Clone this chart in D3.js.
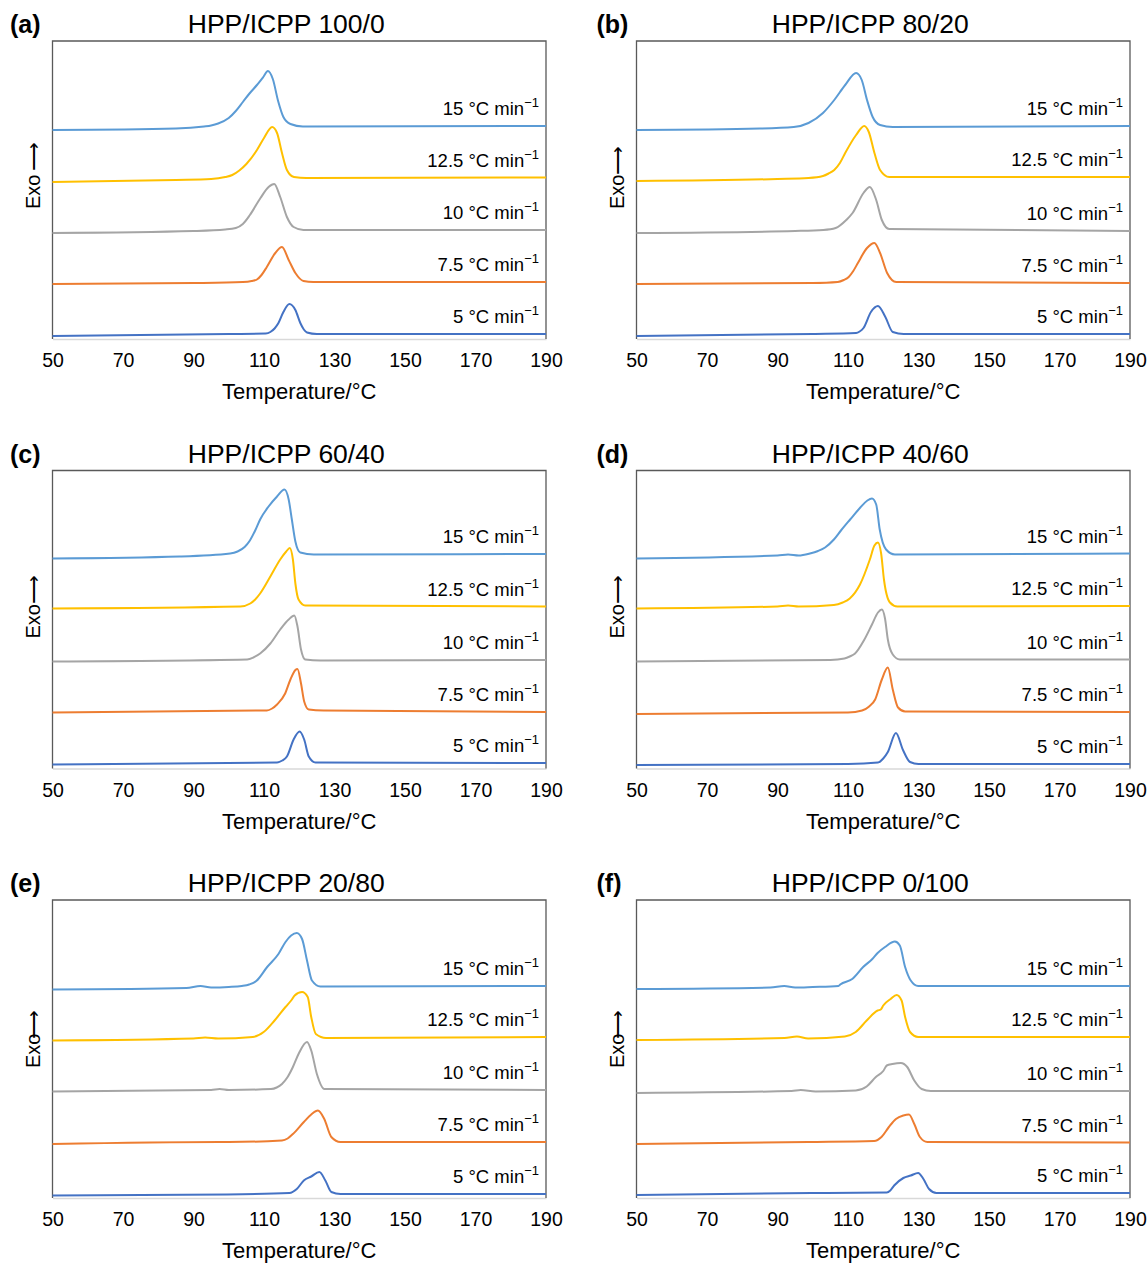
<!DOCTYPE html>
<html>
<head>
<meta charset="utf-8">
<script src="https://cdn.jsdelivr.net/npm/d3@7"></script>
<style>
  body { margin: 0; background: #fff; }
  text { font-family: "Liberation Sans", Arial, sans-serif; fill: #000; }
</style>
</head>
<body>
<svg id="chart"></svg>
<script>
// Cooling rates (°C/min), top curve first
const rates = ["15", "12.5", "10", "7.5", "5"];
const rateColors = ["#5B9BD5", "#FFC000", "#A5A5A5", "#ED7D31", "#4472C4"];
const panelLetters = ["(a)", "(b)", "(c)", "(d)", "(e)", "(f)"];
const panelTitles = ["HPP/ICPP 100/0", "HPP/ICPP 80/20", "HPP/ICPP 60/40",
                     "HPP/ICPP 40/60", "HPP/ICPP 20/80", "HPP/ICPP 0/100"];
const xTicks = [50, 70, 90, 110, 130, 150, 170, 190];

// DSC cooling curves, [temperature, heat flow (a.u., stacked)]
const curvesA = [
  [[50,20.9],[85,21.05],[93,21.25],[95,21.35],[97,21.55],[100,22.1],[102,22.8],[104,23.7],[106,24.6],[108,25.4],[109.8,26.2],[111.1,26.8],[112.5,26.0],[114,23.8],[115.5,22.2],[117.5,21.5],[121,21.25],[190,21.3]],
  [[50,15.7],[85,15.9],[95,16.0],[99,16.2],[101,16.4],[103,16.85],[105,17.5],[108,18.9],[110,20.1],[112.3,21.2],[113.7,20.6],[115.1,18.6],[116.5,16.9],[118.5,16.2],[122,16.1],[190,16.15]],
  [[50,10.6],[90,10.8],[99,10.95],[102,11.1],[104,11.5],[106,12.4],[109,14.1],[111.3,15.2],[112.9,15.5],[114.6,14.2],[116.5,12.2],[118.4,11.2],[121.2,10.9],[190,10.9]],
  [[50,5.5],[90,5.6],[104,5.7],[106.5,5.8],[108,5.95],[109.3,6.4],[110.8,7.2],[113.2,8.6],[115.1,9.2],[117,7.9],[118.9,6.6],[121.2,5.8],[124,5.7],[190,5.7]],
  [[50,0.3],[100,0.5],[110.5,0.55],[111.8,0.7],[113,1.05],[114.1,1.6],[115.5,2.7],[117.2,3.5],[118.9,2.9],[120.3,1.6],[121.3,0.95],[122.2,0.65],[125,0.5],[190,0.5]]
];
const curvesB = [
  [[50,20.9],[85,21.05],[94.6,21.2],[98.8,21.6],[102.9,22.6],[106.1,23.9],[109.2,25.4],[112.3,26.6],[113.9,25.9],[115.4,23.9],[117,22.2],[119.1,21.4],[122.7,21.2],[190,21.3]],
  [[50,15.8],[90,16.0],[98.8,16.1],[102.9,16.3],[104.5,16.55],[106.1,16.9],[107.7,17.6],[109.2,18.6],[112.3,20.4],[114.6,21.3],[115.9,20.7],[117.5,18.6],[119.1,16.9],[121.7,16.2],[190,16.2]],
  [[50,10.6],[95,10.8],[103,10.9],[106.5,11.1],[109.5,11.9],[111.3,12.6],[114.4,14.6],[116.2,15.2],[118,13.9],[119.6,11.9],[121.7,11.0],[190,10.8]],
  [[50,5.5],[100,5.6],[107.1,5.7],[108.8,5.9],[110.2,6.2],[111.5,6.8],[112.8,7.6],[115.4,9.1],[117.5,9.6],[119.1,8.6],[121.1,6.6],[123.7,5.7],[190,5.6]],
  [[50,0.3],[100,0.5],[112.3,0.6],[113.3,0.75],[114.4,1.1],[116.5,2.7],[118.5,3.3],[120.6,2.2],[122.7,0.7],[125.8,0.5],[190,0.5]]
];
const curvesC = [
  [[50,21.0],[86,21.2],[100.4,21.5],[102.5,21.7],[104.5,22.15],[106,22.8],[107.5,23.8],[108.9,24.9],[111.3,26.2],[113.7,27.2],[115.8,27.9],[117,26.9],[117.9,24.9],[118.9,22.7],[120.3,21.6],[124.1,21.4],[190,21.45]],
  [[50,16.0],[103.3,16.2],[106.1,16.5],[107.5,16.9],[108.9,17.5],[111.8,19.2],[114.6,20.9],[116.3,21.7],[117.3,22.05],[118.2,20.9],[118.9,18.5],[119.8,16.9],[121.7,16.3],[190,16.2]],
  [[50,10.7],[105.2,10.9],[107,11.1],[108.9,11.5],[111.8,12.5],[114.6,13.9],[117,14.9],[118.6,15.3],[119.5,14.2],[120.5,11.9],[121.7,10.9],[126,10.8],[190,10.85]],
  [[50,5.6],[110.8,5.8],[112.3,6.0],[113.7,6.4],[116,7.5],[117.5,8.9],[118.9,9.85],[119.5,9.95],[120.5,8.5],[121.4,6.7],[122.7,5.9],[126.9,5.8],[190,5.65]],
  [[50,0.4],[113.7,0.6],[115.2,0.8],[116.5,1.2],[118.4,2.9],[120.1,3.7],[121.4,2.9],[122.7,1.2],[124.6,0.6],[190,0.55]]
];
const curvesD = [
  [[50,21.0],[90,21.3],[93,21.4],[96,21.3],[99.2,21.5],[101.5,21.75],[103.5,22.1],[106,22.9],[108,23.8],[110.6,24.9],[113.5,26.1],[115.5,26.8],[116.8,27.0],[118,26.4],[119,23.9],[120.8,21.9],[123.3,21.4],[190,21.5]],
  [[50,16.0],[90,16.2],[93,16.3],[96,16.2],[106,16.35],[108.5,16.6],[110.5,17.0],[113.4,18.4],[116.2,20.9],[117.5,22.3],[118.5,22.6],[119.4,21.5],[120.2,18.9],[121.9,16.6],[124,16.2],[190,16.25]],
  [[50,10.7],[105,10.85],[109,11.0],[110.5,11.2],[112,11.5],[114.5,12.8],[116.8,14.4],[118.5,15.6],[119.6,15.9],[120.5,15.0],[121.3,12.9],[122.7,11.4],[124.7,10.9],[190,10.9]],
  [[50,5.45],[110,5.6],[114,5.8],[116,6.2],[117.7,6.9],[119.6,8.9],[121.3,10.1],[122.7,7.9],[124.2,6.1],[126.2,5.7],[190,5.65]],
  [[50,0.35],[110,0.45],[118.5,0.6],[120,1.0],[121.3,1.65],[123.6,3.55],[125.6,1.85],[127.6,0.65],[130,0.45],[190,0.45]]
];
const curvesE = [
  [[50,20.85],[88,21.0],[92,21.2],[95,21.05],[100,21.1],[103.7,21.2],[105.8,21.35],[107.8,21.7],[110.9,23.1],[114.1,24.4],[116.1,25.6],[117.7,26.25],[119.3,26.5],[120.8,25.9],[122.2,23.75],[123.6,21.75],[126,21.15],[190,21.2]],
  [[50,15.75],[90,15.95],[93.3,16.05],[97,15.95],[106.8,16.1],[109.9,16.6],[113,17.75],[116.1,19.1],[117.7,19.75],[118.7,20.25],[120.8,20.6],[122.4,20.1],[123.4,18.1],[124.7,16.4],[127.6,16.0],[190,16.1]],
  [[50,10.65],[95,10.8],[97.4,10.9],[100,10.8],[112,10.9],[113.6,11.05],[115.1,11.4],[116.7,12.1],[118.2,13.1],[119.8,14.4],[122.2,15.6],[123.4,14.75],[125,12.4],[127.1,10.9],[190,10.8]],
  [[50,5.4],[97.4,5.6],[100,5.6],[115.1,5.75],[116.7,5.95],[118.2,6.4],[121.3,7.6],[123.4,8.35],[125.3,8.75],[127.1,7.9],[129.1,6.1],[131.7,5.6],[190,5.6]],
  [[50,0.25],[99.5,0.35],[117.2,0.5],[119.3,0.9],[121.3,1.75],[123.4,2.15],[125.7,2.6],[127.4,1.75],[129.1,0.6],[131.7,0.4],[190,0.4]]
];
const curvesF = [
  [[50,20.9],[88,21.05],[91.9,21.2],[95,21.05],[100,21.1],[107.3,21.2],[107.8,21.35],[111.2,21.9],[114.3,23.1],[116.9,23.9],[118.4,24.5],[120.5,25.1],[123.3,25.65],[124.7,25.25],[126.2,23.1],[127.8,21.75],[129.9,21.2],[190,21.2]],
  [[50,15.8],[92,16.0],[95.5,16.15],[98.7,15.95],[109.1,16.15],[112.2,16.6],[115.3,17.75],[118.4,18.75],[119.3,18.85],[120,19.25],[122.1,19.9],[123.8,20.3],[125.2,19.75],[126.2,18.1],[127.6,16.6],[129.9,16.1],[190,16.1]],
  [[50,10.5],[94,10.7],[96.6,10.8],[100.8,10.65],[112.2,10.75],[115.3,11.15],[117.9,12.1],[120,12.7],[121,13.25],[122.6,13.4],[125,13.5],[126.8,13.1],[128.8,11.75],[130.9,10.9],[133.5,10.7],[190,10.7]],
  [[50,5.4],[98.7,5.6],[117.4,5.7],[119.5,6.1],[121.6,7.1],[123.6,7.9],[125.7,8.25],[127.3,8.35],[128.8,7.4],[130.4,6.1],[132.5,5.6],[190,5.55]],
  [[50,0.3],[99.7,0.5],[121,0.55],[122,0.75],[123.1,1.25],[125.7,2.0],[127.8,2.25],[129.9,2.5],[131.4,1.9],[133,0.9],[135.1,0.5],[190,0.5]]
];
const panelCurves = [curvesA, curvesB, curvesC, curvesD, curvesE, curvesF];

// Layout
const width = 1148, height = 1264;
const plotW = 493.5, plotH = 298;
const colX = [52.5, 636.5], rowY = [41, 470.5, 900];
const exoArrowShift = [4, 0, 0, 0, -5, -5];

const svg = d3.select("#chart")
  .attr("width", width)
  .attr("height", height);

panelCurves.forEach((curves, i) => {
  const g = svg.append("g")
    .attr("transform", `translate(${colX[i % 2]},${rowY[Math.floor(i / 2)]})`);

  const x = d3.scaleLinear().domain([50, 190]).range([0, plotW]);
  const y = d3.scaleLinear().domain([0, 29.8]).range([plotH, 0]);

  // bottom axis (light grey line, no ticks)
  const axis = g.append("g")
    .attr("transform", `translate(0,${plotH})`)
    .call(d3.axisBottom(x).tickValues(xTicks).tickSize(0).tickSizeOuter(0));
  axis.select(".domain").attr("stroke", "#d9d9d9").attr("stroke-width", 1.6);
  axis.selectAll("text")
    .attr("y", 28).attr("dy", null)
    .style("font-size", "19.5px")
    .style("font-family", '"Liberation Sans", Arial, sans-serif');

  // frame: left, top, right
  g.append("path")
    .attr("d", `M0,${plotH}V0H${plotW}V${plotH}`)
    .attr("fill", "none")
    .attr("stroke", "#595959")
    .attr("stroke-width", 1.3);

  const line = d3.line()
    .x(d => x(d[0]))
    .y(d => y(d[1]))
    .curve(d3.curveMonotoneX);

  curves.forEach((pts, k) => {
    g.append("path")
      .datum(pts)
      .attr("d", line)
      .attr("fill", "none")
      .attr("stroke", rateColors[k])
      .attr("stroke-width", 2)
      .attr("stroke-linejoin", "round");

    const last = pts[pts.length - 1];
    const lbl = g.append("text")
      .attr("x", plotW - 7)
      .attr("y", y(last[1]) - 11)
      .attr("text-anchor", "end")
      .style("font-size", "18.5px")
      .text(`${rates[k]} °C min`);
    lbl.append("tspan")
      .attr("dy", -8)
      .style("font-size", "13px")
      .text("\u22121");
  });

  // titles
  g.append("text")
    .attr("x", plotW / 2 - 13)
    .attr("y", -7.7)
    .attr("text-anchor", "middle")
    .style("font-size", "26.5px")
    .text(panelTitles[i]);

  g.append("text")
    .attr("x", i % 2 === 0 ? -42.5 : -40)
    .attr("y", -7.7)
    .style("font-size", "25px")
    .style("font-weight", "bold")
    .text(panelLetters[i]);

  g.append("text")
    .attr("x", plotW / 2)
    .attr("y", plotH + 60)
    .attr("text-anchor", "middle")
    .style("font-size", "22px")
    .text("Temperature/°C");

  // Exo arrow label
  const exo = g.append("text")
    .attr("transform", `translate(-13,168) rotate(-90)`)
    .style("font-size", "20px")
    .text("Exo");
  exo.append("tspan")
    .attr("dx", exoArrowShift[i])
    .text("\u27F6");
});
</script>
</body>
</html>
